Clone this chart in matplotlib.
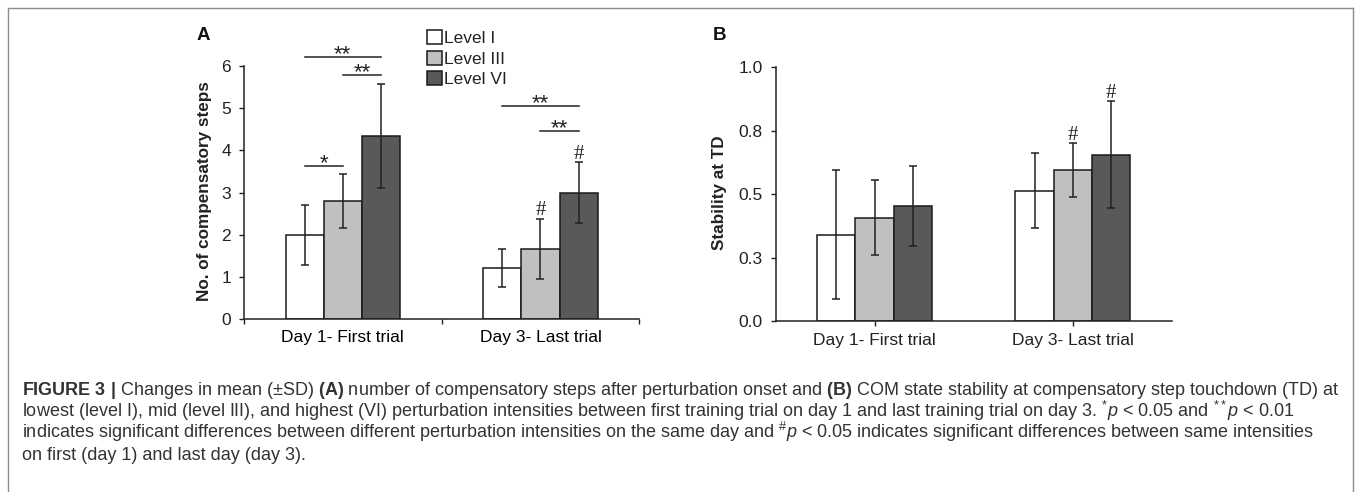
import matplotlib
matplotlib.use('Agg')
import matplotlib.pyplot as plt
from matplotlib.patches import Patch
from matplotlib.lines import Line2D
import numpy as np

plt.rcParams['font.family'] = ['Liberation Sans', 'DejaVu Sans']
plt.rcParams['mathtext.fontset'] = 'custom'
plt.rcParams['mathtext.rm'] = 'Liberation Sans'
plt.rcParams['mathtext.it'] = 'Liberation Sans:italic'
plt.rcParams['mathtext.bf'] = 'Liberation Sans:bold'

# ---------------- data ----------------
days = ["Day 1- First trial", "Day 3- Last trial"]
levels = ["Level I", "Level III", "Level VI"]

steps_level1 = [2.00, 1.21]
steps_level3 = [2.80, 1.67]
steps_level6 = [4.33, 3.00]
steps_sd_level1 = [0.71, 0.45]
steps_sd_level3 = [0.64, 0.71]
steps_sd_level6 = [1.23, 0.71]

stab_level1 = [0.340, 0.514]
stab_level3 = [0.407, 0.595]
stab_level6 = [0.453, 0.656]
stab_sd_level1 = [0.255, 0.148]
stab_sd_level3 = [0.148, 0.105]
stab_sd_level6 = [0.158, 0.210]

steps_yticks = [0, 1, 2, 3, 4, 5, 6]
stab_yticks = [0.0, 0.25, 0.5, 0.75, 1.0]
stab_yticklabels = ["0.0", "0.3", "0.5", "0.8", "1.0"]

# (day index, level a, level b, height, label)
steps_sig = [(0, 0, 2, 6.20, "**"), (0, 1, 2, 5.78, "**"), (0, 0, 1, 3.63, "*"),
             (1, 0, 2, 5.04, "**"), (1, 1, 2, 4.45, "**")]
# (day index, level) marked with '#'
steps_hash = [(1, 1), (1, 2)]
stab_hash = [(1, 1), (1, 2)]

caption_lines = [
    r"$\mathbf{FIGURE\ 3\ |}$ Changes in mean (±SD) $\mathbf{(A)}$ number of compensatory steps after perturbation onset and $\mathbf{(B)}$ COM state stability at compensatory step touchdown (TD) at",
    r"lowest (level I), mid (level III), and highest (VI) perturbation intensities between first training trial on day 1 and last training trial on day 3. $^{*}\mathit{p}$ < 0.05 and $^{**}\mathit{p}$ < 0.01",
    r"indicates significant differences between different perturbation intensities on the same day and $^{\#}\mathit{p}$ < 0.05 indicates significant differences between same intensities",
    r"on first (day 1) and last day (day 3).",
]

# ---------------- layout ----------------
W, H = 1357, 492
fig = plt.figure(figsize=(W / 100, H / 100), dpi=100)
fig.patch.set_facecolor('white')

def fx(px):
    return px / W

def fy(py):
    return 1 - py / H

colors = ['#ffffff', '#c0c0c0', '#595959']
edge = '#1a1a1a'
ink = '#222222'
bw = 0.193
offsets = np.array([-1, 0, 1]) * bw
centers = np.arange(len(days)) + 0.5
TICK_FS = 12.5

axA = fig.add_axes([fx(244), fy(319.3), fx(395.3), 253.6 / H])
axB = fig.add_axes([fx(775.5), fy(321), fx(396.5), 253.7 / H])

def draw(ax, means, sds):
    for i, (m, s) in enumerate(zip(means, sds)):
        ax.bar(centers + offsets[i], m, bw, color=colors[i], edgecolor=edge,
               linewidth=1.1, zorder=2)
        ax.errorbar(centers + offsets[i], m, yerr=s, fmt='none', ecolor=ink,
                    elinewidth=1.1, capsize=2.6, capthick=1.1, zorder=3)
    ax.set_xlim(0, 2)
    for sp in ['top', 'right']:
        ax.spines[sp].set_visible(False)
    for sp in ['left', 'bottom']:
        ax.spines[sp].set_linewidth(1.1)
        ax.spines[sp].set_color(ink)
    ax.tick_params(axis='both', direction='out', length=3.3, width=1.0,
                   colors=ink, labelsize=TICK_FS, labelcolor=ink)
    ax.tick_params(axis='y', pad=6.0)

stepsA = [steps_level1, steps_level3, steps_level6]
sdA = [steps_sd_level1, steps_sd_level3, steps_sd_level6]
stabB = [stab_level1, stab_level3, stab_level6]
sdB = [stab_sd_level1, stab_sd_level3, stab_sd_level6]

draw(axA, stepsA, sdA)
draw(axB, stabB, sdB)

axA.set_ylim(0, 6)
axA.set_yticks(steps_yticks)
axA.set_xticks([0, 1, 2])
axA.set_xticklabels([])
axA.set_xticks(centers, minor=True)
axA.set_xticklabels(days, minor=True)
axA.tick_params(axis='x', which='minor', length=0, pad=8.0, labelsize=TICK_FS)

axB.set_ylim(0, 1)
axB.set_yticks(stab_yticks)
axB.set_yticklabels(stab_yticklabels)
axB.set_xticks(centers)
axB.set_xticklabels(days)
axB.tick_params(axis='x', pad=5.0)

# significance bars
for d, a, b, h, lab in steps_sig:
    x0 = centers[d] + offsets[a]
    x1 = centers[d] + offsets[b]
    axA.plot([x0, x1], [h, h], color=ink, lw=1.1, clip_on=False, zorder=4)
    axA.annotate(lab, ((x0 + x1) / 2, h), xytext=(0, -6.0), textcoords='offset points',
                 ha='center', va='bottom', fontsize=16, color=ink,
                 annotation_clip=False)

def hashes(ax, items, means, sds):
    for d, lv in items:
        top = means[lv][d] + sds[lv][d]
        ax.annotate('#', (centers[d] + offsets[lv], top), xytext=(0, 2.4),
                    textcoords='offset points', ha='center', va='baseline',
                    fontsize=15, family='Liberation Serif', color=ink,
                    annotation_clip=False)

hashes(axA, steps_hash, stepsA, sdA)
hashes(axB, stab_hash, stabB, sdB)

# legend
handles = [Patch(facecolor=c, edgecolor=edge, linewidth=1.1) for c in colors]
axA.legend(handles, levels, loc='upper left',
           bbox_to_anchor=((427 - 244) / 395.3, (319.3 - 30.5) / 253.6),
           frameon=False, handlelength=0.85, handleheight=0.85, handletextpad=0.12,
           labelspacing=0.25, borderpad=0, borderaxespad=0, fontsize=12.5,
           labelcolor=ink)

# axis labels and panel letters
fig.text(fx(204.5), fy(191), "No. of compensatory steps", rotation=90, ha='center',
         va='center', fontsize=12.3, fontweight='bold', color=ink)
fig.text(fx(719), fy(192.5), "Stability at TD", rotation=90, ha='center',
         va='center', fontsize=12.3, fontweight='bold', color=ink)
fig.text(fx(196.5), fy(40), "A", fontsize=13.5, fontweight='bold', va='baseline',
         color='#111111')
fig.text(fx(712.5), fy(40.5), "B", fontsize=13.5, fontweight='bold', va='baseline',
         color='#111111')

# caption
baselines = [395, 416.7, 438.4, 460]
texts = []
for line, by in zip(caption_lines, baselines):
    texts.append(fig.text(fx(21.7), fy(by), line, fontsize=12, va='baseline',
                          ha='left', color='#333333'))
fig.canvas.draw()
r = fig.canvas.get_renderer()
w1 = texts[0].get_window_extent(r).width
fs = 12 * 1318 / w1
for t in texts:
    t.set_fontsize(fs)

# frame
fc = '#8c8c8c'
fig.add_artist(Line2D([fx(8), fx(1353)], [fy(8), fy(8)], color=fc, lw=1.0))
fig.add_artist(Line2D([fx(8), fx(8)], [fy(8), 0], color=fc, lw=1.0))
fig.add_artist(Line2D([fx(1353), fx(1353)], [fy(8), 0], color=fc, lw=1.0))

fig.savefig('out.png', dpi=100)
